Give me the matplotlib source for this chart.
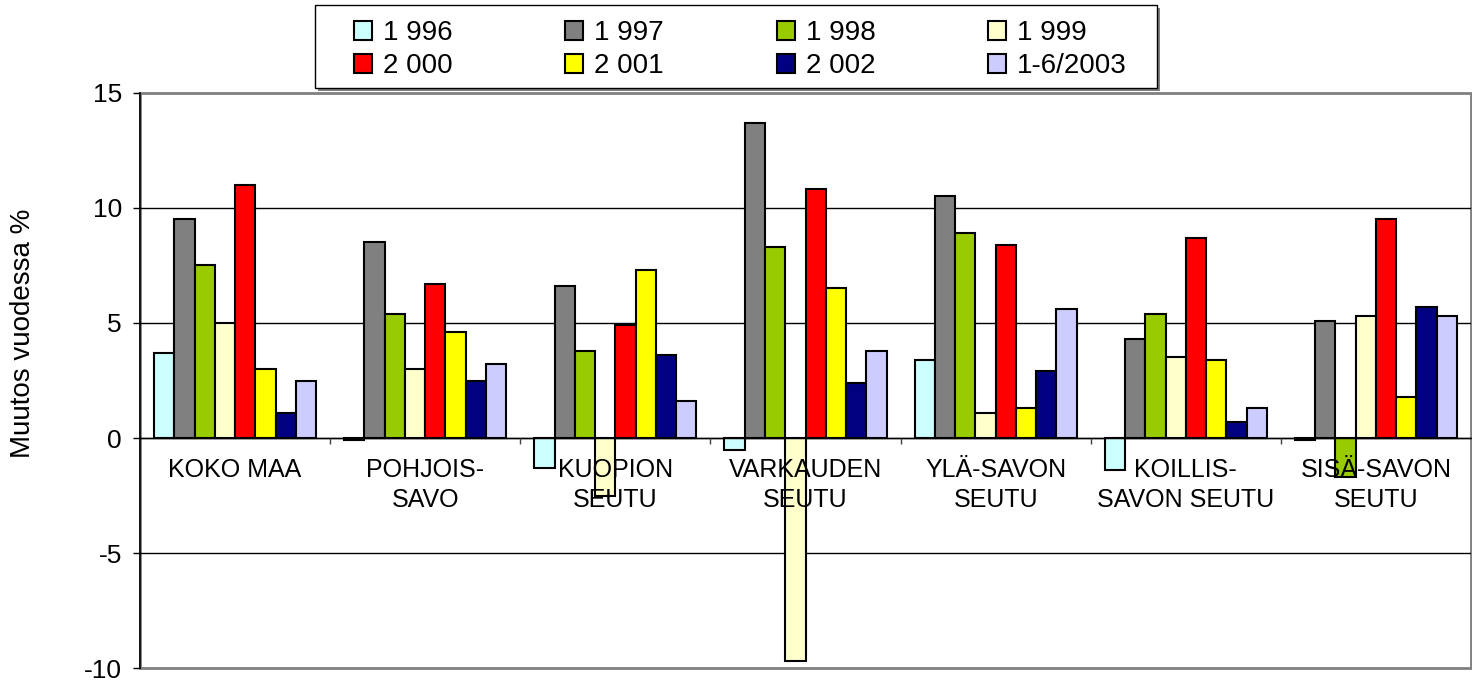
import numpy as np
import matplotlib
matplotlib.use('Agg')
import matplotlib.pyplot as plt
from matplotlib.patches import Rectangle

plt.rcParams['font.family'] = ['Liberation Sans', 'DejaVu Sans']
plt.rcParams['axes.unicode_minus'] = False

#Region names shown under the zero line
regions = ['KOKO MAA', 'POHJOIS-\nSAVO', 'KUOPION\nSEUTU', 'VARKAUDEN\nSEUTU',
           'YLÄ-SAVON\nSEUTU', 'KOILLIS-\nSAVON SEUTU', 'SISÄ-SAVON\nSEUTU']

#Legend labels, one per year
years = ['1 996', '1 997', '1 998', '1 999', '2 000', '2 001', '2 002', '1-6/2003']

#Change per year in percent, one list per year
y1996 = [3.7, -0.1, -1.3, -0.5, 3.4, -1.4, -0.1]
y1997 = [9.5, 8.5, 6.6, 13.7, 10.5, 4.3, 5.1]
y1998 = [7.5, 5.4, 3.8, 8.3, 8.9, 5.4, -1.7]
y1999 = [5.0, 3.0, -2.5, -9.7, 1.1, 3.5, 5.3]
y2000 = [11.0, 6.7, 4.9, 10.8, 8.4, 8.7, 9.5]
y2001 = [3.0, 4.6, 7.3, 6.5, 1.3, 3.4, 1.8]
y2002 = [1.1, 2.5, 3.6, 2.4, 2.9, 0.7, 5.7]
y2003 = [2.5, 3.2, 1.6, 3.8, 5.6, 1.3, 5.3]

series = [y1996, y1997, y1998, y1999, y2000, y2001, y2002, y2003]
colors = ['#CCFFFF', '#808080', '#99CC00', '#FFFFCC',
          '#FF0000', '#FFFF00', '#000080', '#CCCCFF']

fig = plt.figure(figsize=(14.72, 6.89), dpi=100)
ax = fig.add_axes([140/1472, 1 - 668.3/689, 1331/1472, (668.3 - 92.7)/689])

#Drawing the grouped bars
x = np.arange(len(regions))
w = 0.852 / len(series)
handles = []
for j, vals in enumerate(series):
    b = ax.bar(x + (j - 3.5) * w, vals, w, color=colors[j],
               edgecolor='black', linewidth=1.5, zorder=2, label=years[j])
    handles.append(b)

ax.set_xlim(-0.5, len(regions) - 0.5)
ax.set_ylim(-10, 15)
ax.set_yticks([-10, -5, 0, 5, 10, 15])
ax.tick_params(axis='y', direction='out', length=5, width=1, labelsize=19, pad=8)

#Gridlines behind the bars
for g in [-5, 0, 5, 10]:
    ax.axhline(g, color='black', linewidth=1, zorder=1)

#Category axis sits on the zero line, its labels are drawn over the bars
ax.spines['bottom'].set_position(('data', 0))
ax.spines['bottom'].set_color('black')
ax.spines['bottom'].set_linewidth(1)
ax.spines['top'].set_visible(False)
ax.spines['right'].set_visible(False)
ax.spines['left'].set_linewidth(1.2)
ax.set_xticks(x)
ax.set_xticklabels(regions, fontsize=18, linespacing=1.35)
ax.set_xticks(np.arange(0.5, len(regions) - 0.5, 1), minor=True)
ax.tick_params(axis='x', which='major', length=0, pad=14)
ax.tick_params(axis='x', which='minor', direction='out', length=4, width=1, color='#404040')
ax.xaxis.set_zorder(5)

#Gray frame round the plot area
ax.add_patch(Rectangle((0, 0), 1, 1, transform=ax.transAxes, fill=False,
                       edgecolor='#808080', linewidth=2, clip_on=False, zorder=0.5))

fig.text(23/1472, 1 - 333/689, 'Muutos vuodessa %', rotation=90,
         ha='center', va='center', fontsize=20)

#Legend box with a gray shadow, drawn by hand
bx, by, bw, bh = 315/1472, 1 - 88/689, (1157 - 315)/1472, 83/689
fig.patches.append(Rectangle((bx + 3/1472, by - 3/689), bw, bh, transform=fig.transFigure,
                             facecolor='#808080', edgecolor='none', zorder=0))
fig.patches.append(Rectangle((bx, by), bw, bh, transform=fig.transFigure,
                             facecolor='white', edgecolor='black', linewidth=1, zorder=0.1))

#Matplotlib fills legend columns first, so reorder to get rows of years
order = [0, 4, 1, 5, 2, 6, 3, 7]
leg = fig.legend(handles=[handles[i] for i in order], labels=[years[i] for i in order],
                 ncol=4, mode='expand', loc='upper left',
                 bbox_to_anchor=(354/1472, 1 - 27/689, (1127 - 354)/1472, 0.01),
                 fontsize=20, frameon=False,
                 handlelength=0.65, handleheight=0.65, handletextpad=0.4,
                 labelspacing=0.25, borderpad=0, borderaxespad=0)

plt.savefig('out.png', dpi=100, facecolor='white')
plt.close()
